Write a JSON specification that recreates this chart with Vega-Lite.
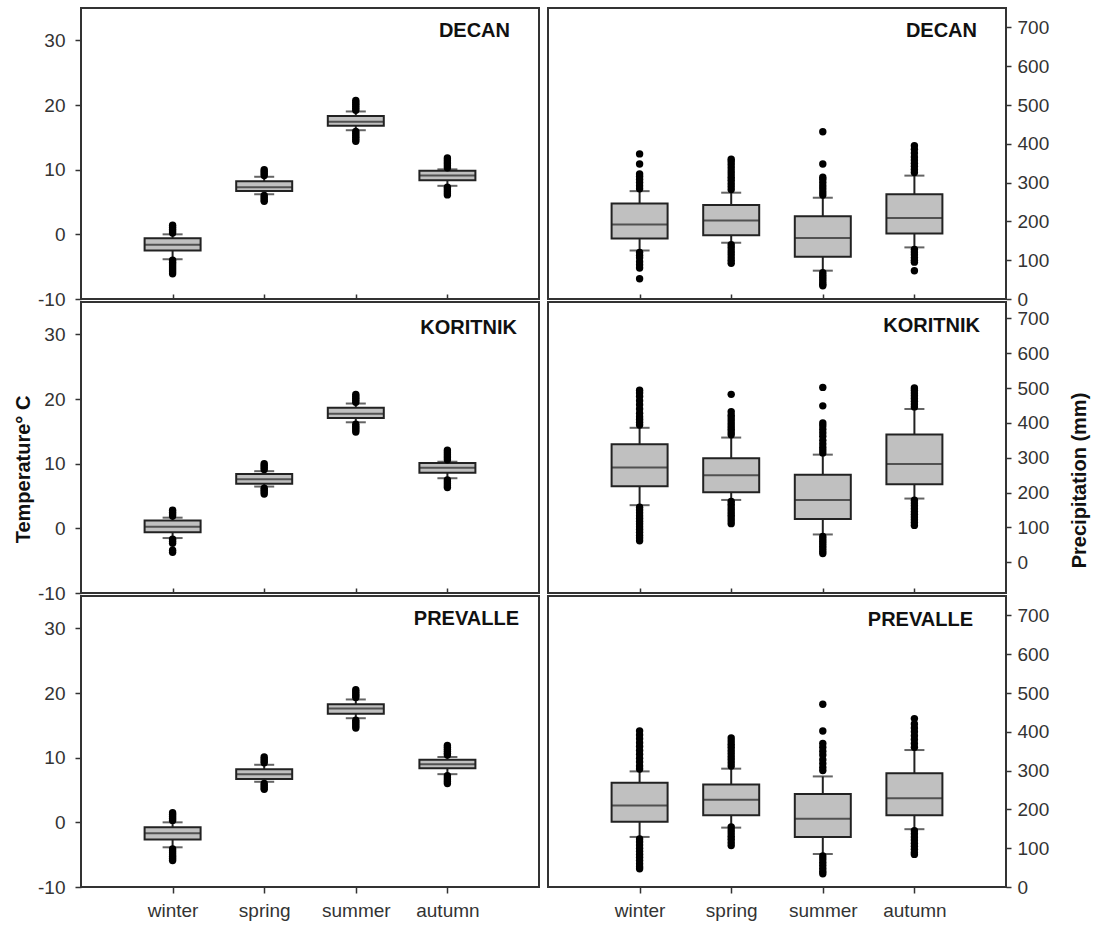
{
  "$schema": "https://vega.github.io/schema/vega-lite/v6.json",
  "padding": {"left": 12, "top": 7, "right": 2, "bottom": 2},
  "background": "white",
  "columns": 2,
  "bounds": "flush",
  "spacing": {"row": 3, "column": 9},
  "config": {
    "view": {"stroke": "#333", "strokeWidth": 2},
    "axis": {"grid": false, "domain": false, "labelFont": "Liberation Sans", "labelFontSize": 19, "labelColor": "#333", "tickColor": "#333", "tickWidth": 1.5, "titleFont": "Liberation Sans", "titleFontSize": 20, "titleFontWeight": "bold", "titleColor": "#111", "labelExpr": "'' + datum.value"},
    "axisX": {"labelExpr": "datum.label"},
    "title": {"font": "Liberation Sans", "fontSize": 20, "fontWeight": "bold", "color": "#111", "anchor": "end", "frame": "group", "orient": "top"}
  },
  "datasets": {
    "stats": [
      {"station": "DECAN", "var": "T", "season": "winter", "lower": -3.85, "q1": -2.5, "median": -1.6, "q3": -0.6, "upper": 0.0},
      {"station": "DECAN", "var": "T", "season": "spring", "lower": 6.2, "q1": 6.7, "median": 7.3, "q3": 8.2, "upper": 8.9},
      {"station": "DECAN", "var": "T", "season": "summer", "lower": 16.1, "q1": 16.8, "median": 17.4, "q3": 18.3, "upper": 19.0},
      {"station": "DECAN", "var": "T", "season": "autumn", "lower": 7.5, "q1": 8.35, "median": 9.1, "q3": 9.85, "upper": 10.05},
      {"station": "DECAN", "var": "P", "season": "winter", "lower": 125, "q1": 156, "median": 192, "q3": 246, "upper": 278},
      {"station": "DECAN", "var": "P", "season": "spring", "lower": 145, "q1": 164, "median": 202, "q3": 242, "upper": 274},
      {"station": "DECAN", "var": "P", "season": "summer", "lower": 73, "q1": 109, "median": 157, "q3": 213, "upper": 261},
      {"station": "DECAN", "var": "P", "season": "autumn", "lower": 133, "q1": 169, "median": 209, "q3": 270, "upper": 318},
      {"station": "KORITNIK", "var": "T", "season": "winter", "lower": -1.5, "q1": -0.6, "median": 0.26, "q3": 1.2, "upper": 1.65},
      {"station": "KORITNIK", "var": "T", "season": "spring", "lower": 6.46, "q1": 6.9, "median": 7.6, "q3": 8.4, "upper": 8.84},
      {"station": "KORITNIK", "var": "T", "season": "summer", "lower": 16.4, "q1": 17.05, "median": 17.7, "q3": 18.66, "upper": 19.3},
      {"station": "KORITNIK", "var": "T", "season": "autumn", "lower": 7.75, "q1": 8.6, "median": 9.35, "q3": 10.1, "upper": 10.3},
      {"station": "KORITNIK", "var": "P", "season": "winter", "lower": 164, "q1": 218, "median": 272, "q3": 339, "upper": 386},
      {"station": "KORITNIK", "var": "P", "season": "spring", "lower": 179, "q1": 201, "median": 250, "q3": 299, "upper": 358},
      {"station": "KORITNIK", "var": "P", "season": "summer", "lower": 80, "q1": 124, "median": 179, "q3": 251, "upper": 309},
      {"station": "KORITNIK", "var": "P", "season": "autumn", "lower": 183, "q1": 224, "median": 282, "q3": 367, "upper": 440},
      {"station": "PREVALLE", "var": "T", "season": "winter", "lower": -3.86, "q1": -2.67, "median": -1.7, "q3": -0.77, "upper": 0.0},
      {"station": "PREVALLE", "var": "T", "season": "spring", "lower": 6.27, "q1": 6.7, "median": 7.45, "q3": 8.2, "upper": 8.9},
      {"station": "PREVALLE", "var": "T", "season": "summer", "lower": 16.1, "q1": 16.8, "median": 17.6, "q3": 18.25, "upper": 19.0},
      {"station": "PREVALLE", "var": "T", "season": "autumn", "lower": 7.45, "q1": 8.38, "median": 9.0, "q3": 9.67, "upper": 10.1},
      {"station": "PREVALLE", "var": "P", "season": "winter", "lower": 129, "q1": 168, "median": 210, "q3": 269, "upper": 298},
      {"station": "PREVALLE", "var": "P", "season": "spring", "lower": 153, "q1": 185, "median": 225, "q3": 264, "upper": 305},
      {"station": "PREVALLE", "var": "P", "season": "summer", "lower": 85, "q1": 129, "median": 176, "q3": 240, "upper": 285},
      {"station": "PREVALLE", "var": "P", "season": "autumn", "lower": 149, "q1": 185, "median": 229, "q3": 293, "upper": 353}
    ],
    "out": [
      {"station": "DECAN", "var": "T", "season": "winter", "value": 0.2},
      {"station": "DECAN", "var": "T", "season": "winter", "value": 0.5},
      {"station": "DECAN", "var": "T", "season": "winter", "value": 0.8},
      {"station": "DECAN", "var": "T", "season": "winter", "value": 1.1},
      {"station": "DECAN", "var": "T", "season": "winter", "value": 1.4},
      {"station": "DECAN", "var": "T", "season": "winter", "value": -4.0},
      {"station": "DECAN", "var": "T", "season": "winter", "value": -4.3},
      {"station": "DECAN", "var": "T", "season": "winter", "value": -4.6},
      {"station": "DECAN", "var": "T", "season": "winter", "value": -4.9},
      {"station": "DECAN", "var": "T", "season": "winter", "value": -5.2},
      {"station": "DECAN", "var": "T", "season": "winter", "value": -5.5},
      {"station": "DECAN", "var": "T", "season": "winter", "value": -5.8},
      {"station": "DECAN", "var": "T", "season": "winter", "value": -6.1},
      {"station": "DECAN", "var": "T", "season": "spring", "value": 9.1},
      {"station": "DECAN", "var": "T", "season": "spring", "value": 9.4},
      {"station": "DECAN", "var": "T", "season": "spring", "value": 9.7},
      {"station": "DECAN", "var": "T", "season": "spring", "value": 10.0},
      {"station": "DECAN", "var": "T", "season": "spring", "value": 6.0},
      {"station": "DECAN", "var": "T", "season": "spring", "value": 5.7},
      {"station": "DECAN", "var": "T", "season": "spring", "value": 5.4},
      {"station": "DECAN", "var": "T", "season": "spring", "value": 5.1},
      {"station": "DECAN", "var": "T", "season": "summer", "value": 19.2},
      {"station": "DECAN", "var": "T", "season": "summer", "value": 19.5},
      {"station": "DECAN", "var": "T", "season": "summer", "value": 19.8},
      {"station": "DECAN", "var": "T", "season": "summer", "value": 20.1},
      {"station": "DECAN", "var": "T", "season": "summer", "value": 20.4},
      {"station": "DECAN", "var": "T", "season": "summer", "value": 20.7},
      {"station": "DECAN", "var": "T", "season": "summer", "value": 15.9},
      {"station": "DECAN", "var": "T", "season": "summer", "value": 15.6},
      {"station": "DECAN", "var": "T", "season": "summer", "value": 15.3},
      {"station": "DECAN", "var": "T", "season": "summer", "value": 15.0},
      {"station": "DECAN", "var": "T", "season": "summer", "value": 14.7},
      {"station": "DECAN", "var": "T", "season": "summer", "value": 14.4},
      {"station": "DECAN", "var": "T", "season": "autumn", "value": 10.3},
      {"station": "DECAN", "var": "T", "season": "autumn", "value": 10.6},
      {"station": "DECAN", "var": "T", "season": "autumn", "value": 10.9},
      {"station": "DECAN", "var": "T", "season": "autumn", "value": 11.2},
      {"station": "DECAN", "var": "T", "season": "autumn", "value": 11.5},
      {"station": "DECAN", "var": "T", "season": "autumn", "value": 11.8},
      {"station": "DECAN", "var": "T", "season": "autumn", "value": 7.3},
      {"station": "DECAN", "var": "T", "season": "autumn", "value": 7.0},
      {"station": "DECAN", "var": "T", "season": "autumn", "value": 6.7},
      {"station": "DECAN", "var": "T", "season": "autumn", "value": 6.4},
      {"station": "DECAN", "var": "T", "season": "autumn", "value": 6.1},
      {"station": "DECAN", "var": "P", "season": "winter", "value": 284},
      {"station": "DECAN", "var": "P", "season": "winter", "value": 292},
      {"station": "DECAN", "var": "P", "season": "winter", "value": 300},
      {"station": "DECAN", "var": "P", "season": "winter", "value": 308},
      {"station": "DECAN", "var": "P", "season": "winter", "value": 316},
      {"station": "DECAN", "var": "P", "season": "winter", "value": 322},
      {"station": "DECAN", "var": "P", "season": "winter", "value": 348},
      {"station": "DECAN", "var": "P", "season": "winter", "value": 374},
      {"station": "DECAN", "var": "P", "season": "winter", "value": 120},
      {"station": "DECAN", "var": "P", "season": "winter", "value": 113},
      {"station": "DECAN", "var": "P", "season": "winter", "value": 106},
      {"station": "DECAN", "var": "P", "season": "winter", "value": 96},
      {"station": "DECAN", "var": "P", "season": "winter", "value": 88},
      {"station": "DECAN", "var": "P", "season": "winter", "value": 80},
      {"station": "DECAN", "var": "P", "season": "winter", "value": 52},
      {"station": "DECAN", "var": "P", "season": "spring", "value": 282},
      {"station": "DECAN", "var": "P", "season": "spring", "value": 290},
      {"station": "DECAN", "var": "P", "season": "spring", "value": 298},
      {"station": "DECAN", "var": "P", "season": "spring", "value": 306},
      {"station": "DECAN", "var": "P", "season": "spring", "value": 314},
      {"station": "DECAN", "var": "P", "season": "spring", "value": 322},
      {"station": "DECAN", "var": "P", "season": "spring", "value": 330},
      {"station": "DECAN", "var": "P", "season": "spring", "value": 338},
      {"station": "DECAN", "var": "P", "season": "spring", "value": 346},
      {"station": "DECAN", "var": "P", "season": "spring", "value": 354},
      {"station": "DECAN", "var": "P", "season": "spring", "value": 360},
      {"station": "DECAN", "var": "P", "season": "spring", "value": 140},
      {"station": "DECAN", "var": "P", "season": "spring", "value": 132},
      {"station": "DECAN", "var": "P", "season": "spring", "value": 124},
      {"station": "DECAN", "var": "P", "season": "spring", "value": 116},
      {"station": "DECAN", "var": "P", "season": "spring", "value": 108},
      {"station": "DECAN", "var": "P", "season": "spring", "value": 100},
      {"station": "DECAN", "var": "P", "season": "spring", "value": 92},
      {"station": "DECAN", "var": "P", "season": "summer", "value": 268},
      {"station": "DECAN", "var": "P", "season": "summer", "value": 276},
      {"station": "DECAN", "var": "P", "season": "summer", "value": 284},
      {"station": "DECAN", "var": "P", "season": "summer", "value": 292},
      {"station": "DECAN", "var": "P", "season": "summer", "value": 300},
      {"station": "DECAN", "var": "P", "season": "summer", "value": 308},
      {"station": "DECAN", "var": "P", "season": "summer", "value": 314},
      {"station": "DECAN", "var": "P", "season": "summer", "value": 348},
      {"station": "DECAN", "var": "P", "season": "summer", "value": 431},
      {"station": "DECAN", "var": "P", "season": "summer", "value": 68},
      {"station": "DECAN", "var": "P", "season": "summer", "value": 62},
      {"station": "DECAN", "var": "P", "season": "summer", "value": 56},
      {"station": "DECAN", "var": "P", "season": "summer", "value": 50},
      {"station": "DECAN", "var": "P", "season": "summer", "value": 44},
      {"station": "DECAN", "var": "P", "season": "summer", "value": 38},
      {"station": "DECAN", "var": "P", "season": "summer", "value": 34},
      {"station": "DECAN", "var": "P", "season": "autumn", "value": 326},
      {"station": "DECAN", "var": "P", "season": "autumn", "value": 334},
      {"station": "DECAN", "var": "P", "season": "autumn", "value": 342},
      {"station": "DECAN", "var": "P", "season": "autumn", "value": 350},
      {"station": "DECAN", "var": "P", "season": "autumn", "value": 358},
      {"station": "DECAN", "var": "P", "season": "autumn", "value": 366},
      {"station": "DECAN", "var": "P", "season": "autumn", "value": 376},
      {"station": "DECAN", "var": "P", "season": "autumn", "value": 386},
      {"station": "DECAN", "var": "P", "season": "autumn", "value": 395},
      {"station": "DECAN", "var": "P", "season": "autumn", "value": 128},
      {"station": "DECAN", "var": "P", "season": "autumn", "value": 121},
      {"station": "DECAN", "var": "P", "season": "autumn", "value": 114},
      {"station": "DECAN", "var": "P", "season": "autumn", "value": 107},
      {"station": "DECAN", "var": "P", "season": "autumn", "value": 100},
      {"station": "DECAN", "var": "P", "season": "autumn", "value": 95},
      {"station": "DECAN", "var": "P", "season": "autumn", "value": 73},
      {"station": "KORITNIK", "var": "T", "season": "winter", "value": 1.9},
      {"station": "KORITNIK", "var": "T", "season": "winter", "value": 2.2},
      {"station": "KORITNIK", "var": "T", "season": "winter", "value": 2.5},
      {"station": "KORITNIK", "var": "T", "season": "winter", "value": 2.8},
      {"station": "KORITNIK", "var": "T", "season": "winter", "value": -1.7},
      {"station": "KORITNIK", "var": "T", "season": "winter", "value": -2.0},
      {"station": "KORITNIK", "var": "T", "season": "winter", "value": -2.3},
      {"station": "KORITNIK", "var": "T", "season": "winter", "value": -3.4},
      {"station": "KORITNIK", "var": "T", "season": "winter", "value": -3.7},
      {"station": "KORITNIK", "var": "T", "season": "spring", "value": 9.1},
      {"station": "KORITNIK", "var": "T", "season": "spring", "value": 9.4},
      {"station": "KORITNIK", "var": "T", "season": "spring", "value": 9.7},
      {"station": "KORITNIK", "var": "T", "season": "spring", "value": 10.0},
      {"station": "KORITNIK", "var": "T", "season": "spring", "value": 6.2},
      {"station": "KORITNIK", "var": "T", "season": "spring", "value": 5.9},
      {"station": "KORITNIK", "var": "T", "season": "spring", "value": 5.6},
      {"station": "KORITNIK", "var": "T", "season": "spring", "value": 5.3},
      {"station": "KORITNIK", "var": "T", "season": "summer", "value": 19.5},
      {"station": "KORITNIK", "var": "T", "season": "summer", "value": 19.8},
      {"station": "KORITNIK", "var": "T", "season": "summer", "value": 20.1},
      {"station": "KORITNIK", "var": "T", "season": "summer", "value": 20.4},
      {"station": "KORITNIK", "var": "T", "season": "summer", "value": 20.7},
      {"station": "KORITNIK", "var": "T", "season": "summer", "value": 16.1},
      {"station": "KORITNIK", "var": "T", "season": "summer", "value": 15.8},
      {"station": "KORITNIK", "var": "T", "season": "summer", "value": 15.5},
      {"station": "KORITNIK", "var": "T", "season": "summer", "value": 15.2},
      {"station": "KORITNIK", "var": "T", "season": "summer", "value": 14.9},
      {"station": "KORITNIK", "var": "T", "season": "autumn", "value": 10.6},
      {"station": "KORITNIK", "var": "T", "season": "autumn", "value": 10.9},
      {"station": "KORITNIK", "var": "T", "season": "autumn", "value": 11.2},
      {"station": "KORITNIK", "var": "T", "season": "autumn", "value": 11.5},
      {"station": "KORITNIK", "var": "T", "season": "autumn", "value": 11.8},
      {"station": "KORITNIK", "var": "T", "season": "autumn", "value": 12.1},
      {"station": "KORITNIK", "var": "T", "season": "autumn", "value": 7.5},
      {"station": "KORITNIK", "var": "T", "season": "autumn", "value": 7.2},
      {"station": "KORITNIK", "var": "T", "season": "autumn", "value": 6.9},
      {"station": "KORITNIK", "var": "T", "season": "autumn", "value": 6.6},
      {"station": "KORITNIK", "var": "T", "season": "autumn", "value": 6.3},
      {"station": "KORITNIK", "var": "P", "season": "winter", "value": 394},
      {"station": "KORITNIK", "var": "P", "season": "winter", "value": 402},
      {"station": "KORITNIK", "var": "P", "season": "winter", "value": 410},
      {"station": "KORITNIK", "var": "P", "season": "winter", "value": 418},
      {"station": "KORITNIK", "var": "P", "season": "winter", "value": 428},
      {"station": "KORITNIK", "var": "P", "season": "winter", "value": 440},
      {"station": "KORITNIK", "var": "P", "season": "winter", "value": 452},
      {"station": "KORITNIK", "var": "P", "season": "winter", "value": 464},
      {"station": "KORITNIK", "var": "P", "season": "winter", "value": 476},
      {"station": "KORITNIK", "var": "P", "season": "winter", "value": 486},
      {"station": "KORITNIK", "var": "P", "season": "winter", "value": 494},
      {"station": "KORITNIK", "var": "P", "season": "winter", "value": 158},
      {"station": "KORITNIK", "var": "P", "season": "winter", "value": 150},
      {"station": "KORITNIK", "var": "P", "season": "winter", "value": 142},
      {"station": "KORITNIK", "var": "P", "season": "winter", "value": 134},
      {"station": "KORITNIK", "var": "P", "season": "winter", "value": 126},
      {"station": "KORITNIK", "var": "P", "season": "winter", "value": 118},
      {"station": "KORITNIK", "var": "P", "season": "winter", "value": 110},
      {"station": "KORITNIK", "var": "P", "season": "winter", "value": 102},
      {"station": "KORITNIK", "var": "P", "season": "winter", "value": 94},
      {"station": "KORITNIK", "var": "P", "season": "winter", "value": 86},
      {"station": "KORITNIK", "var": "P", "season": "winter", "value": 78},
      {"station": "KORITNIK", "var": "P", "season": "winter", "value": 70},
      {"station": "KORITNIK", "var": "P", "season": "winter", "value": 62},
      {"station": "KORITNIK", "var": "P", "season": "spring", "value": 366},
      {"station": "KORITNIK", "var": "P", "season": "spring", "value": 374},
      {"station": "KORITNIK", "var": "P", "season": "spring", "value": 382},
      {"station": "KORITNIK", "var": "P", "season": "spring", "value": 390},
      {"station": "KORITNIK", "var": "P", "season": "spring", "value": 398},
      {"station": "KORITNIK", "var": "P", "season": "spring", "value": 406},
      {"station": "KORITNIK", "var": "P", "season": "spring", "value": 414},
      {"station": "KORITNIK", "var": "P", "season": "spring", "value": 422},
      {"station": "KORITNIK", "var": "P", "season": "spring", "value": 432},
      {"station": "KORITNIK", "var": "P", "season": "spring", "value": 482},
      {"station": "KORITNIK", "var": "P", "season": "spring", "value": 175},
      {"station": "KORITNIK", "var": "P", "season": "spring", "value": 167},
      {"station": "KORITNIK", "var": "P", "season": "spring", "value": 159},
      {"station": "KORITNIK", "var": "P", "season": "spring", "value": 151},
      {"station": "KORITNIK", "var": "P", "season": "spring", "value": 143},
      {"station": "KORITNIK", "var": "P", "season": "spring", "value": 135},
      {"station": "KORITNIK", "var": "P", "season": "spring", "value": 127},
      {"station": "KORITNIK", "var": "P", "season": "spring", "value": 119},
      {"station": "KORITNIK", "var": "P", "season": "spring", "value": 111},
      {"station": "KORITNIK", "var": "P", "season": "summer", "value": 314},
      {"station": "KORITNIK", "var": "P", "season": "summer", "value": 322},
      {"station": "KORITNIK", "var": "P", "season": "summer", "value": 330},
      {"station": "KORITNIK", "var": "P", "season": "summer", "value": 340},
      {"station": "KORITNIK", "var": "P", "season": "summer", "value": 350},
      {"station": "KORITNIK", "var": "P", "season": "summer", "value": 362},
      {"station": "KORITNIK", "var": "P", "season": "summer", "value": 372},
      {"station": "KORITNIK", "var": "P", "season": "summer", "value": 382},
      {"station": "KORITNIK", "var": "P", "season": "summer", "value": 392},
      {"station": "KORITNIK", "var": "P", "season": "summer", "value": 400},
      {"station": "KORITNIK", "var": "P", "season": "summer", "value": 449},
      {"station": "KORITNIK", "var": "P", "season": "summer", "value": 502},
      {"station": "KORITNIK", "var": "P", "season": "summer", "value": 74},
      {"station": "KORITNIK", "var": "P", "season": "summer", "value": 67},
      {"station": "KORITNIK", "var": "P", "season": "summer", "value": 60},
      {"station": "KORITNIK", "var": "P", "season": "summer", "value": 53},
      {"station": "KORITNIK", "var": "P", "season": "summer", "value": 46},
      {"station": "KORITNIK", "var": "P", "season": "summer", "value": 39},
      {"station": "KORITNIK", "var": "P", "season": "summer", "value": 32},
      {"station": "KORITNIK", "var": "P", "season": "summer", "value": 25},
      {"station": "KORITNIK", "var": "P", "season": "autumn", "value": 446},
      {"station": "KORITNIK", "var": "P", "season": "autumn", "value": 454},
      {"station": "KORITNIK", "var": "P", "season": "autumn", "value": 462},
      {"station": "KORITNIK", "var": "P", "season": "autumn", "value": 470},
      {"station": "KORITNIK", "var": "P", "season": "autumn", "value": 478},
      {"station": "KORITNIK", "var": "P", "season": "autumn", "value": 486},
      {"station": "KORITNIK", "var": "P", "season": "autumn", "value": 494},
      {"station": "KORITNIK", "var": "P", "season": "autumn", "value": 500},
      {"station": "KORITNIK", "var": "P", "season": "autumn", "value": 178},
      {"station": "KORITNIK", "var": "P", "season": "autumn", "value": 170},
      {"station": "KORITNIK", "var": "P", "season": "autumn", "value": 162},
      {"station": "KORITNIK", "var": "P", "season": "autumn", "value": 154},
      {"station": "KORITNIK", "var": "P", "season": "autumn", "value": 146},
      {"station": "KORITNIK", "var": "P", "season": "autumn", "value": 138},
      {"station": "KORITNIK", "var": "P", "season": "autumn", "value": 130},
      {"station": "KORITNIK", "var": "P", "season": "autumn", "value": 122},
      {"station": "KORITNIK", "var": "P", "season": "autumn", "value": 114},
      {"station": "KORITNIK", "var": "P", "season": "autumn", "value": 106},
      {"station": "PREVALLE", "var": "T", "season": "winter", "value": 0.3},
      {"station": "PREVALLE", "var": "T", "season": "winter", "value": 0.6},
      {"station": "PREVALLE", "var": "T", "season": "winter", "value": 0.9},
      {"station": "PREVALLE", "var": "T", "season": "winter", "value": 1.2},
      {"station": "PREVALLE", "var": "T", "season": "winter", "value": 1.5},
      {"station": "PREVALLE", "var": "T", "season": "winter", "value": -4.1},
      {"station": "PREVALLE", "var": "T", "season": "winter", "value": -4.4},
      {"station": "PREVALLE", "var": "T", "season": "winter", "value": -4.7},
      {"station": "PREVALLE", "var": "T", "season": "winter", "value": -5.0},
      {"station": "PREVALLE", "var": "T", "season": "winter", "value": -5.3},
      {"station": "PREVALLE", "var": "T", "season": "winter", "value": -5.6},
      {"station": "PREVALLE", "var": "T", "season": "winter", "value": -5.9},
      {"station": "PREVALLE", "var": "T", "season": "spring", "value": 9.2},
      {"station": "PREVALLE", "var": "T", "season": "spring", "value": 9.5},
      {"station": "PREVALLE", "var": "T", "season": "spring", "value": 9.8},
      {"station": "PREVALLE", "var": "T", "season": "spring", "value": 10.1},
      {"station": "PREVALLE", "var": "T", "season": "spring", "value": 6.0},
      {"station": "PREVALLE", "var": "T", "season": "spring", "value": 5.7},
      {"station": "PREVALLE", "var": "T", "season": "spring", "value": 5.4},
      {"station": "PREVALLE", "var": "T", "season": "spring", "value": 5.1},
      {"station": "PREVALLE", "var": "T", "season": "summer", "value": 19.3},
      {"station": "PREVALLE", "var": "T", "season": "summer", "value": 19.6},
      {"station": "PREVALLE", "var": "T", "season": "summer", "value": 19.9},
      {"station": "PREVALLE", "var": "T", "season": "summer", "value": 20.2},
      {"station": "PREVALLE", "var": "T", "season": "summer", "value": 20.5},
      {"station": "PREVALLE", "var": "T", "season": "summer", "value": 15.8},
      {"station": "PREVALLE", "var": "T", "season": "summer", "value": 15.5},
      {"station": "PREVALLE", "var": "T", "season": "summer", "value": 15.2},
      {"station": "PREVALLE", "var": "T", "season": "summer", "value": 14.9},
      {"station": "PREVALLE", "var": "T", "season": "summer", "value": 14.6},
      {"station": "PREVALLE", "var": "T", "season": "autumn", "value": 10.4},
      {"station": "PREVALLE", "var": "T", "season": "autumn", "value": 10.7},
      {"station": "PREVALLE", "var": "T", "season": "autumn", "value": 11.0},
      {"station": "PREVALLE", "var": "T", "season": "autumn", "value": 11.3},
      {"station": "PREVALLE", "var": "T", "season": "autumn", "value": 11.6},
      {"station": "PREVALLE", "var": "T", "season": "autumn", "value": 11.9},
      {"station": "PREVALLE", "var": "T", "season": "autumn", "value": 7.2},
      {"station": "PREVALLE", "var": "T", "season": "autumn", "value": 6.9},
      {"station": "PREVALLE", "var": "T", "season": "autumn", "value": 6.6},
      {"station": "PREVALLE", "var": "T", "season": "autumn", "value": 6.3},
      {"station": "PREVALLE", "var": "T", "season": "autumn", "value": 6.0},
      {"station": "PREVALLE", "var": "P", "season": "winter", "value": 304},
      {"station": "PREVALLE", "var": "P", "season": "winter", "value": 312},
      {"station": "PREVALLE", "var": "P", "season": "winter", "value": 322},
      {"station": "PREVALLE", "var": "P", "season": "winter", "value": 332},
      {"station": "PREVALLE", "var": "P", "season": "winter", "value": 342},
      {"station": "PREVALLE", "var": "P", "season": "winter", "value": 352},
      {"station": "PREVALLE", "var": "P", "season": "winter", "value": 362},
      {"station": "PREVALLE", "var": "P", "season": "winter", "value": 372},
      {"station": "PREVALLE", "var": "P", "season": "winter", "value": 382},
      {"station": "PREVALLE", "var": "P", "season": "winter", "value": 392},
      {"station": "PREVALLE", "var": "P", "season": "winter", "value": 402},
      {"station": "PREVALLE", "var": "P", "season": "winter", "value": 124},
      {"station": "PREVALLE", "var": "P", "season": "winter", "value": 116},
      {"station": "PREVALLE", "var": "P", "season": "winter", "value": 108},
      {"station": "PREVALLE", "var": "P", "season": "winter", "value": 100},
      {"station": "PREVALLE", "var": "P", "season": "winter", "value": 92},
      {"station": "PREVALLE", "var": "P", "season": "winter", "value": 84},
      {"station": "PREVALLE", "var": "P", "season": "winter", "value": 76},
      {"station": "PREVALLE", "var": "P", "season": "winter", "value": 68},
      {"station": "PREVALLE", "var": "P", "season": "winter", "value": 60},
      {"station": "PREVALLE", "var": "P", "season": "winter", "value": 52},
      {"station": "PREVALLE", "var": "P", "season": "winter", "value": 47},
      {"station": "PREVALLE", "var": "P", "season": "spring", "value": 312},
      {"station": "PREVALLE", "var": "P", "season": "spring", "value": 320},
      {"station": "PREVALLE", "var": "P", "season": "spring", "value": 328},
      {"station": "PREVALLE", "var": "P", "season": "spring", "value": 336},
      {"station": "PREVALLE", "var": "P", "season": "spring", "value": 344},
      {"station": "PREVALLE", "var": "P", "season": "spring", "value": 352},
      {"station": "PREVALLE", "var": "P", "season": "spring", "value": 360},
      {"station": "PREVALLE", "var": "P", "season": "spring", "value": 368},
      {"station": "PREVALLE", "var": "P", "season": "spring", "value": 376},
      {"station": "PREVALLE", "var": "P", "season": "spring", "value": 384},
      {"station": "PREVALLE", "var": "P", "season": "spring", "value": 155},
      {"station": "PREVALLE", "var": "P", "season": "spring", "value": 147},
      {"station": "PREVALLE", "var": "P", "season": "spring", "value": 139},
      {"station": "PREVALLE", "var": "P", "season": "spring", "value": 131},
      {"station": "PREVALLE", "var": "P", "season": "spring", "value": 123},
      {"station": "PREVALLE", "var": "P", "season": "spring", "value": 115},
      {"station": "PREVALLE", "var": "P", "season": "spring", "value": 107},
      {"station": "PREVALLE", "var": "P", "season": "summer", "value": 300},
      {"station": "PREVALLE", "var": "P", "season": "summer", "value": 308},
      {"station": "PREVALLE", "var": "P", "season": "summer", "value": 318},
      {"station": "PREVALLE", "var": "P", "season": "summer", "value": 328},
      {"station": "PREVALLE", "var": "P", "season": "summer", "value": 340},
      {"station": "PREVALLE", "var": "P", "season": "summer", "value": 350},
      {"station": "PREVALLE", "var": "P", "season": "summer", "value": 360},
      {"station": "PREVALLE", "var": "P", "season": "summer", "value": 370},
      {"station": "PREVALLE", "var": "P", "season": "summer", "value": 402},
      {"station": "PREVALLE", "var": "P", "season": "summer", "value": 471},
      {"station": "PREVALLE", "var": "P", "season": "summer", "value": 80},
      {"station": "PREVALLE", "var": "P", "season": "summer", "value": 72},
      {"station": "PREVALLE", "var": "P", "season": "summer", "value": 64},
      {"station": "PREVALLE", "var": "P", "season": "summer", "value": 56},
      {"station": "PREVALLE", "var": "P", "season": "summer", "value": 48},
      {"station": "PREVALLE", "var": "P", "season": "summer", "value": 40},
      {"station": "PREVALLE", "var": "P", "season": "summer", "value": 34},
      {"station": "PREVALLE", "var": "P", "season": "autumn", "value": 360},
      {"station": "PREVALLE", "var": "P", "season": "autumn", "value": 370},
      {"station": "PREVALLE", "var": "P", "season": "autumn", "value": 380},
      {"station": "PREVALLE", "var": "P", "season": "autumn", "value": 390},
      {"station": "PREVALLE", "var": "P", "season": "autumn", "value": 400},
      {"station": "PREVALLE", "var": "P", "season": "autumn", "value": 410},
      {"station": "PREVALLE", "var": "P", "season": "autumn", "value": 420},
      {"station": "PREVALLE", "var": "P", "season": "autumn", "value": 434},
      {"station": "PREVALLE", "var": "P", "season": "autumn", "value": 145},
      {"station": "PREVALLE", "var": "P", "season": "autumn", "value": 137},
      {"station": "PREVALLE", "var": "P", "season": "autumn", "value": 129},
      {"station": "PREVALLE", "var": "P", "season": "autumn", "value": 121},
      {"station": "PREVALLE", "var": "P", "season": "autumn", "value": 113},
      {"station": "PREVALLE", "var": "P", "season": "autumn", "value": 105},
      {"station": "PREVALLE", "var": "P", "season": "autumn", "value": 97},
      {"station": "PREVALLE", "var": "P", "season": "autumn", "value": 89},
      {"station": "PREVALLE", "var": "P", "season": "autumn", "value": 84}
    ]
  },
  "concat": [
    {
      "width": 458, "height": 291,
      "title": {"text": "DECAN", "dx": -29, "offset": -33},
      "data": {"name": "stats"},
      "transform": [{"filter": "datum.station === 'DECAN' && datum.var === 'T'"}],
      "encoding": {"x": {"field": "season", "type": "nominal", "scale": {"type": "point", "padding": 1, "domain": ["winter", "spring", "summer", "autumn"]}, "axis": {"labels": false, "tickSize": -5, "title": null}}},
      "layer": [
        {"mark": {"type": "rule", "color": "#222", "strokeWidth": 2}, "encoding": {"y": {"field": "lower", "type": "quantitative", "scale": {"domain": [-10, 35], "nice": false, "zero": false}, "axis": {"orient": "left", "values": [-10, 0, 10, 20, 30], "tickSize": 6, "labelPadding": 10, "title": null}}, "y2": {"field": "upper"}}},
        {"mark": {"type": "bar", "size": 56, "fill": "#c0c0c0", "stroke": "#222", "strokeWidth": 2}, "encoding": {"y": {"field": "q1", "type": "quantitative"}, "y2": {"field": "q3"}}},
        {"mark": {"type": "tick", "size": 56, "thickness": 2, "color": "#222"}, "encoding": {"y": {"field": "median", "type": "quantitative"}}},
        {"transform": [{"fold": ["lower", "upper"], "as": ["end", "v"]}], "mark": {"type": "tick", "size": 20, "thickness": 2, "color": "#222"}, "encoding": {"y": {"field": "v", "type": "quantitative"}}},
        {"data": {"name": "out"}, "transform": [{"filter": "datum.station === 'DECAN' && datum.var === 'T'"}], "mark": {"type": "circle", "size": 55, "color": "#000", "opacity": 1}, "encoding": {"y": {"field": "value", "type": "quantitative"}}}
      ]
    },
    {
      "width": 458, "height": 291,
      "title": {"text": "DECAN", "dx": -29, "offset": -33},
      "data": {"name": "stats"},
      "transform": [{"filter": "datum.station === 'DECAN' && datum.var === 'P'"}],
      "encoding": {"x": {"field": "season", "type": "nominal", "scale": {"type": "point", "padding": 1, "domain": ["winter", "spring", "summer", "autumn"]}, "axis": {"labels": false, "tickSize": -5, "title": null}}},
      "layer": [
        {"mark": {"type": "rule", "color": "#222", "strokeWidth": 2}, "encoding": {"y": {"field": "lower", "type": "quantitative", "scale": {"domain": [0, 750], "nice": false, "zero": false}, "axis": {"orient": "right", "values": [0, 100, 200, 300, 400, 500, 600, 700], "tickSize": 5, "labelPadding": 6, "title": null}}, "y2": {"field": "upper"}}},
        {"mark": {"type": "bar", "size": 56, "fill": "#c0c0c0", "stroke": "#222", "strokeWidth": 2}, "encoding": {"y": {"field": "q1", "type": "quantitative"}, "y2": {"field": "q3"}}},
        {"mark": {"type": "tick", "size": 56, "thickness": 2, "color": "#222"}, "encoding": {"y": {"field": "median", "type": "quantitative"}}},
        {"transform": [{"fold": ["lower", "upper"], "as": ["end", "v"]}], "mark": {"type": "tick", "size": 20, "thickness": 2, "color": "#222"}, "encoding": {"y": {"field": "v", "type": "quantitative"}}},
        {"data": {"name": "out"}, "transform": [{"filter": "datum.station === 'DECAN' && datum.var === 'P'"}], "mark": {"type": "circle", "size": 55, "color": "#000", "opacity": 1}, "encoding": {"y": {"field": "value", "type": "quantitative"}}}
      ]
    },
    {
      "width": 458, "height": 291,
      "title": {"text": "KORITNIK", "dx": -22, "offset": -36},
      "data": {"name": "stats"},
      "transform": [{"filter": "datum.station === 'KORITNIK' && datum.var === 'T'"}],
      "encoding": {"x": {"field": "season", "type": "nominal", "scale": {"type": "point", "padding": 1, "domain": ["winter", "spring", "summer", "autumn"]}, "axis": {"labels": false, "tickSize": -5, "title": null}}},
      "layer": [
        {"mark": {"type": "rule", "color": "#222", "strokeWidth": 2}, "encoding": {"y": {"field": "lower", "type": "quantitative", "scale": {"domain": [-10, 35], "nice": false, "zero": false}, "axis": {"orient": "left", "values": [-10, 0, 10, 20, 30], "tickSize": 6, "labelPadding": 10, "title": "Temperature° C", "titleAngle": 270, "titleX": -58, "titleY": 167, "titleBaseline": "middle", "titleAlign": "center"}}, "y2": {"field": "upper"}}},
        {"mark": {"type": "bar", "size": 56, "fill": "#c0c0c0", "stroke": "#222", "strokeWidth": 2}, "encoding": {"y": {"field": "q1", "type": "quantitative"}, "y2": {"field": "q3"}}},
        {"mark": {"type": "tick", "size": 56, "thickness": 2, "color": "#222"}, "encoding": {"y": {"field": "median", "type": "quantitative"}}},
        {"transform": [{"fold": ["lower", "upper"], "as": ["end", "v"]}], "mark": {"type": "tick", "size": 20, "thickness": 2, "color": "#222"}, "encoding": {"y": {"field": "v", "type": "quantitative"}}},
        {"data": {"name": "out"}, "transform": [{"filter": "datum.station === 'KORITNIK' && datum.var === 'T'"}], "mark": {"type": "circle", "size": 55, "color": "#000", "opacity": 1}, "encoding": {"y": {"field": "value", "type": "quantitative"}}}
      ]
    },
    {
      "width": 458, "height": 291,
      "title": {"text": "KORITNIK", "dx": -26, "offset": -34},
      "data": {"name": "stats"},
      "transform": [{"filter": "datum.station === 'KORITNIK' && datum.var === 'P'"}],
      "encoding": {"x": {"field": "season", "type": "nominal", "scale": {"type": "point", "padding": 1, "domain": ["winter", "spring", "summer", "autumn"]}, "axis": {"labels": false, "tickSize": -5, "title": null}}},
      "layer": [
        {"mark": {"type": "rule", "color": "#222", "strokeWidth": 2}, "encoding": {"y": {"field": "lower", "type": "quantitative", "scale": {"domain": [-88, 747], "nice": false, "zero": false}, "axis": {"orient": "right", "values": [0, 100, 200, 300, 400, 500, 600, 700], "tickSize": 5, "labelPadding": 6, "title": "Precipitation (mm)", "titleAngle": 270, "titleX": 73, "titleY": 178, "titleBaseline": "middle", "titleAlign": "center"}}, "y2": {"field": "upper"}}},
        {"mark": {"type": "bar", "size": 56, "fill": "#c0c0c0", "stroke": "#222", "strokeWidth": 2}, "encoding": {"y": {"field": "q1", "type": "quantitative"}, "y2": {"field": "q3"}}},
        {"mark": {"type": "tick", "size": 56, "thickness": 2, "color": "#222"}, "encoding": {"y": {"field": "median", "type": "quantitative"}}},
        {"transform": [{"fold": ["lower", "upper"], "as": ["end", "v"]}], "mark": {"type": "tick", "size": 20, "thickness": 2, "color": "#222"}, "encoding": {"y": {"field": "v", "type": "quantitative"}}},
        {"data": {"name": "out"}, "transform": [{"filter": "datum.station === 'KORITNIK' && datum.var === 'P'"}], "mark": {"type": "circle", "size": 55, "color": "#000", "opacity": 1}, "encoding": {"y": {"field": "value", "type": "quantitative"}}}
      ]
    },
    {
      "width": 458, "height": 291,
      "title": {"text": "PREVALLE", "dx": -20, "offset": -33},
      "data": {"name": "stats"},
      "transform": [{"filter": "datum.station === 'PREVALLE' && datum.var === 'T'"}],
      "encoding": {"x": {"field": "season", "type": "nominal", "scale": {"type": "point", "padding": 1, "domain": ["winter", "spring", "summer", "autumn"]}, "axis": {"labelAngle": 0, "tickSize": 6, "labelPadding": 8, "title": null}}},
      "layer": [
        {"mark": {"type": "rule", "color": "#222", "strokeWidth": 2}, "encoding": {"y": {"field": "lower", "type": "quantitative", "scale": {"domain": [-10, 35], "nice": false, "zero": false}, "axis": {"orient": "left", "values": [-10, 0, 10, 20, 30], "tickSize": 6, "labelPadding": 10, "title": null}}, "y2": {"field": "upper"}}},
        {"mark": {"type": "bar", "size": 56, "fill": "#c0c0c0", "stroke": "#222", "strokeWidth": 2}, "encoding": {"y": {"field": "q1", "type": "quantitative"}, "y2": {"field": "q3"}}},
        {"mark": {"type": "tick", "size": 56, "thickness": 2, "color": "#222"}, "encoding": {"y": {"field": "median", "type": "quantitative"}}},
        {"transform": [{"fold": ["lower", "upper"], "as": ["end", "v"]}], "mark": {"type": "tick", "size": 20, "thickness": 2, "color": "#222"}, "encoding": {"y": {"field": "v", "type": "quantitative"}}},
        {"data": {"name": "out"}, "transform": [{"filter": "datum.station === 'PREVALLE' && datum.var === 'T'"}], "mark": {"type": "circle", "size": 55, "color": "#000", "opacity": 1}, "encoding": {"y": {"field": "value", "type": "quantitative"}}}
      ]
    },
    {
      "width": 458, "height": 291,
      "title": {"text": "PREVALLE", "dx": -33, "offset": -34},
      "data": {"name": "stats"},
      "transform": [{"filter": "datum.station === 'PREVALLE' && datum.var === 'P'"}],
      "encoding": {"x": {"field": "season", "type": "nominal", "scale": {"type": "point", "padding": 1, "domain": ["winter", "spring", "summer", "autumn"]}, "axis": {"labelAngle": 0, "tickSize": 6, "labelPadding": 8, "title": null}}},
      "layer": [
        {"mark": {"type": "rule", "color": "#222", "strokeWidth": 2}, "encoding": {"y": {"field": "lower", "type": "quantitative", "scale": {"domain": [0, 750], "nice": false, "zero": false}, "axis": {"orient": "right", "values": [0, 100, 200, 300, 400, 500, 600, 700], "tickSize": 5, "labelPadding": 6, "title": null}}, "y2": {"field": "upper"}}},
        {"mark": {"type": "bar", "size": 56, "fill": "#c0c0c0", "stroke": "#222", "strokeWidth": 2}, "encoding": {"y": {"field": "q1", "type": "quantitative"}, "y2": {"field": "q3"}}},
        {"mark": {"type": "tick", "size": 56, "thickness": 2, "color": "#222"}, "encoding": {"y": {"field": "median", "type": "quantitative"}}},
        {"transform": [{"fold": ["lower", "upper"], "as": ["end", "v"]}], "mark": {"type": "tick", "size": 20, "thickness": 2, "color": "#222"}, "encoding": {"y": {"field": "v", "type": "quantitative"}}},
        {"data": {"name": "out"}, "transform": [{"filter": "datum.station === 'PREVALLE' && datum.var === 'P'"}], "mark": {"type": "circle", "size": 55, "color": "#000", "opacity": 1}, "encoding": {"y": {"field": "value", "type": "quantitative"}}}
      ]
    }
  ]
}
